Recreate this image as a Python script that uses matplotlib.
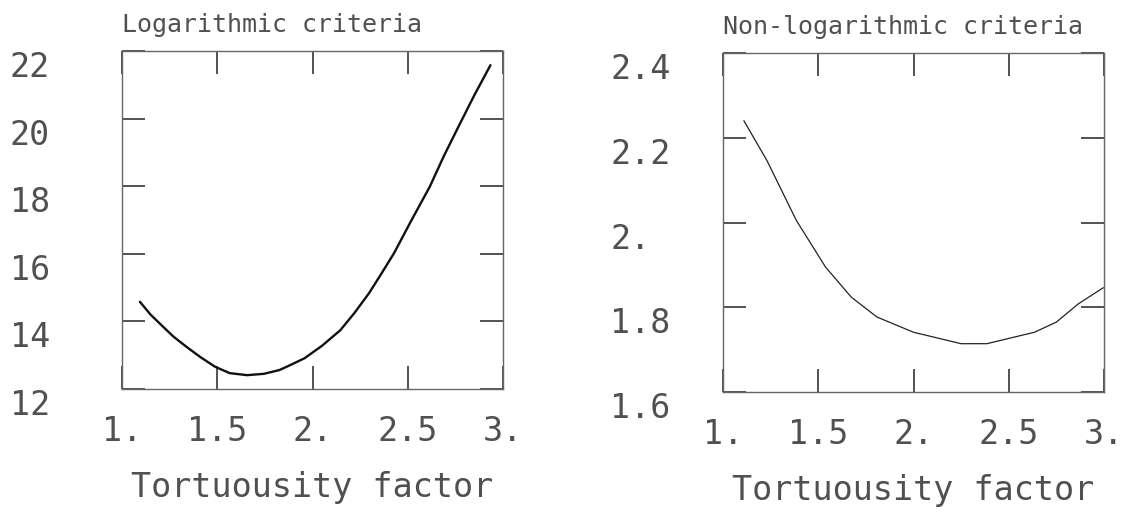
import matplotlib.pyplot as plt

# criterion value vs tortuosity factor
tort_log = [1.094, 1.150, 1.207, 1.270, 1.338, 1.410, 1.488, 1.565, 1.657,
            1.745, 1.826, 1.880, 1.958, 2.050, 2.146, 2.220, 2.296, 2.360,
            2.427, 2.520, 2.615, 2.690, 2.765, 2.850, 2.934]
crit_log = [14.58, 14.20, 13.89, 13.55, 13.25, 12.95, 12.66, 12.47, 12.41,
            12.45, 12.56, 12.70, 12.91, 13.28, 13.74, 14.25, 14.83, 15.40,
            16.01, 17.00, 17.98, 18.90, 19.75, 20.70, 21.58]

tort_nonlog = [1.110, 1.231, 1.385, 1.538, 1.673, 1.808, 2.000, 2.250,
               2.385, 2.635, 2.750, 2.865, 2.996]
crit_nonlog = [2.240, 2.146, 2.005, 1.895, 1.824, 1.777, 1.741, 1.714,
               1.714, 1.741, 1.765, 1.808, 1.846]

x_ticks = [1.0, 1.5, 2.0, 2.5, 3.0]
x_labels = ["1.", "1.5", "2.", "2.5", "3."]

y_ticks_log = [12, 14, 16, 18, 20, 22]
y_labels_log = ["12", "14", "16", "18", "20", "22"]

y_ticks_nonlog = [1.6, 1.8, 2.0, 2.2, 2.4]
y_labels_nonlog = ["1.6", "1.8", "2.", "2.2", "2.4"]

FONT = "DejaVu Sans Mono"
TXT = "#505050"

fig = plt.figure(figsize=(11.35, 5.12), dpi=100)
ax1 = fig.add_axes([0.1075, 0.2402, 0.3357, 0.6602])
ax2 = fig.add_axes([0.637, 0.2344, 0.3357, 0.662])


def style_frame(ax, title, yticks, ylabels, ylim):
    ax.set_xlim(1, 3)
    ax.set_ylim(*ylim)
    ax.set_xticks(x_ticks, x_labels)
    ax.set_yticks(yticks, ylabels)
    ax.tick_params(direction="in", top=True, right=True, length=16.5,
                   width=1.3, color="#444444", labelsize=24,
                   labelcolor=TXT)
    ax.tick_params(axis="x", pad=19)
    ax.tick_params(axis="y", pad=81)
    for lab in ax.get_xticklabels() + ax.get_yticklabels():
        lab.set_fontfamily(FONT)
    for lab in ax.get_yticklabels():
        lab.set_ha("left")
        lab.set_va("top")
    for sp in ax.spines.values():
        sp.set_color("#666666")
        sp.set_linewidth(1.0)
    ax.set_title(title, loc="left", family=FONT, fontsize=18, color=TXT,
                 pad=14)
    ax.set_xlabel("Tortuousity factor", family=FONT, fontsize=24,
                  color=TXT, labelpad=16)


ax1.plot(tort_log, crit_log, color="#111111", lw=1.7,
         solid_joinstyle="round", solid_capstyle="round")
style_frame(ax1, "Logarithmic criteria", y_ticks_log, y_labels_log, (12, 22))

ax2.plot(tort_nonlog, crit_nonlog, color="#222222", lw=0.9)
style_frame(ax2, "Non-logarithmic criteria", y_ticks_nonlog, y_labels_nonlog,
            (1.6, 2.4))

fig.savefig("out.png", dpi=100)
